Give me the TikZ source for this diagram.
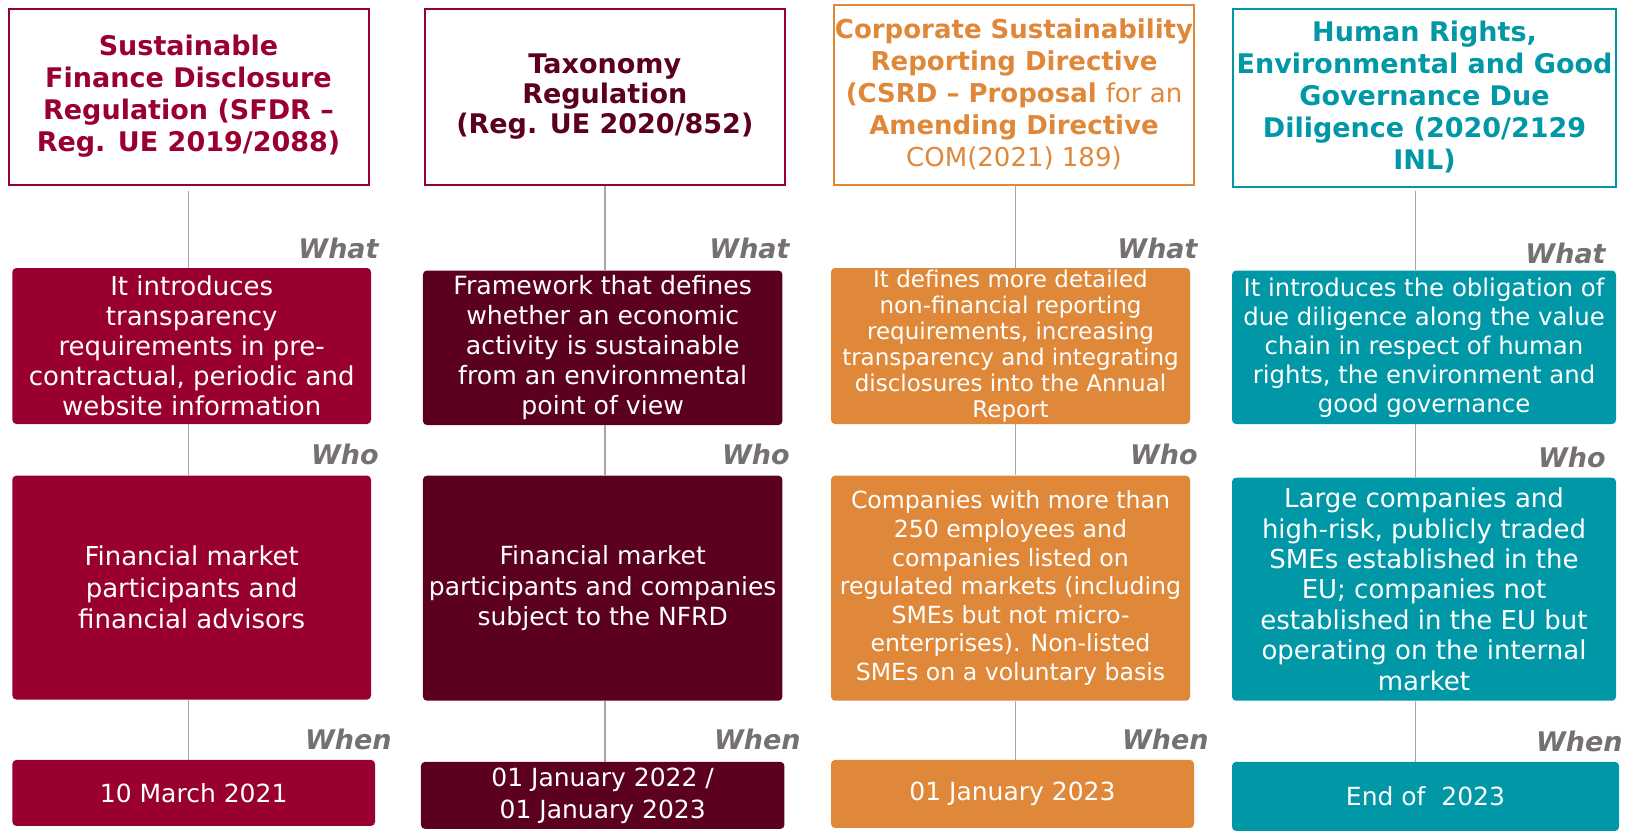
\documentclass[tikz,border=0pt]{standalone}
\usepackage{fontspec}
\setmainfont{DejaVu Sans}
\definecolor{crimson}{HTML}{990030}
\definecolor{maroon}{HTML}{5B001E}
\definecolor{orangec}{HTML}{E0883A}
\definecolor{tealc}{HTML}{0097A7}
\definecolor{labgray}{HTML}{767171}
\definecolor{linegray}{HTML}{A6A6A6}
\newcommand{\fsz}[2]{\fontsize{#1}{#2}\selectfont}
\begin{document}
\begin{tikzpicture}
[
x=0.5pt, y=-0.5pt,
hdr/.style={rectangle, draw, line width=1pt, fill=white, align=center, inner xsep=0pt, inner ysep=1pt, font=\bfseries\fsz{13.5}{16}},
blk/.style={rectangle, rounded corners=2pt, align=center, text=white, inner xsep=0pt, inner ysep=1pt},
tag/.style={anchor=east, text=labgray, inner sep=0pt, font=\bfseries\itshape\fsz{13.5}{16}},
conn/.style={draw=linegray, line width=0.7pt},
]
\useasboundingbox (0,0) rectangle (1625,831);
%
% headers
\node [hdr, draw=crimson, text=crimson, minimum width=180pt, minimum height=88pt] (sfdr) at (188.5, 96.5)
  {Sustainable\\ Finance Disclosure\\ Regulation (SFDR --\\ Reg. UE 2019/2088)};
\node [hdr, draw=crimson, text=maroon, minimum width=179.75pt, minimum height=88pt, font=\bfseries\fsz{13.5}{15}] (tax) at (604.8, 96.5)
  {Taxonomy\\ Regulation\\ (Reg. UE 2020/852)};
\node [hdr, draw=orangec, text=orangec, minimum width=180pt, minimum height=89.75pt, font=\bfseries\fsz{13}{16}] (csrd) at (1014, 94.8)
  {\makebox[0pt]{Corporate Sustainability}\\ Reporting Directive\\ (CSRD -- Proposal \mdseries for an\\ Amending Directive\\ \mdseries COM(2021) 189)};
\node [hdr, draw=tealc, text=tealc, minimum width=191.5pt, minimum height=89pt] (hrdd) at (1424.5, 97.5)
  {Human Rights,\\ Environmental and Good\\ Governance Due\\ Diligence (2020/2129\\ INL)};
%
% what
\node [blk, fill=crimson, minimum width=179.3pt, minimum height=78pt, font=\fsz{13}{15}] (what1) at (191.7, 346)
  {It introduces\\ transparency\\ requirements in pre-\\ contractual, periodic and\\ website information};
\node [blk, fill=maroon, minimum width=179.75pt, minimum height=77.25pt, font=\fsz{12.6}{15}] (what2) at (602.7, 347.8)
  {Framework that defines\\ whether an economic\\ activity is sustainable\\ from an environmental\\ point of view};
\node [blk, fill=orangec, minimum width=179.5pt, minimum height=78pt, inner ysep=0pt, font=\fsz{11.5}{13}] (what3) at (1010.5, 346)
  {It defines more detailed\\ non-financial reporting\\ requirements, increasing\\ transparency and integrating\\ disclosures into the Annual\\ Report};
\node [blk, fill=tealc, minimum width=192pt, minimum height=76.75pt, font=\fsz{12.2}{14.5}] (what4) at (1424, 347.3)
  {It introduces the obligation of\\ due diligence along the value\\ chain in respect of human\\ rights, the environment and\\ good governance};
%
% who
\node [blk, fill=crimson, minimum width=179.3pt, minimum height=112pt, font=\fsz{13}{15.8}] (who1) at (191.7, 587.6)
  {Financial market\\ participants and\\ financial advisors};
\node [blk, fill=maroon, minimum width=179.75pt, minimum height=112.5pt, font=\fsz{12.5}{15.3}] (who2) at (602.7, 588.2)
  {Financial market\\ participants and companies\\ subject to the NFRD};
\node [blk, fill=orangec, minimum width=179.5pt, minimum height=112.5pt, font=\fsz{11.8}{14.3}] (who3) at (1010.5, 588.2)
  {Companies with more than\\ 250 employees and\\ companies listed on\\ regulated markets (including\\ SMEs but not micro-\\ enterprises). Non-listed\\ SMEs on a voluntary basis};
\node [blk, fill=tealc, minimum width=192pt, minimum height=111.5pt, font=\fsz{13}{15.2}] (who4) at (1424, 589.2)
  {Large companies and\\ high-risk, publicly traded\\ SMEs established in the\\ EU; companies not\\ established in the EU but\\ operating on the internal\\ market};
%
% when
\node [blk, fill=crimson, minimum width=181.3pt, minimum height=33pt, font=\fsz{12.5}{16}] (when1) at (193.7, 792.9) {10 March 2021};
\node [blk, fill=maroon, minimum width=181.75pt, minimum height=33.5pt, font=\fsz{12.5}{16}] (when2) at (602.7, 795.4) {01 January 2022 /\\ 01 January 2023};
\node [blk, fill=orangec, minimum width=181.5pt, minimum height=34pt, font=\fsz{12.5}{16}] (when3) at (1012.5, 793.9) {01 January 2023};
\node [blk, fill=tealc, minimum width=193.5pt, minimum height=34.5pt, font=\fsz{12.5}{16}] (when4) at (1425.5, 796.4) {End of~~2023};
%
% labels
\node [tag] (lwhat1) at (379, 248.7) {What};
\node [tag] (lwhat2) at (790, 248.7) {What};
\node [tag] (lwhat3) at (1198, 248.7) {What};
\node [tag] (lwhat4) at (1606, 253) {What};
\node [tag] (lwho1) at (379, 454) {Who};
\node [tag] (lwho2) at (790, 454) {Who};
\node [tag] (lwho3) at (1198, 454) {Who};
\node [tag] (lwho4) at (1606, 457) {Who};
\node [tag] (lwhen1) at (392, 739) {When};
\node [tag] (lwhen2) at (801, 739) {When};
\node [tag] (lwhen3) at (1209, 739) {When};
\node [tag] (lwhen4) at (1623, 741) {When};
%
% connectors
\coordinate (top1) at ([yshift=-2.5pt]sfdr.south);
\coordinate (top2) at (tax.south);
\coordinate (top3) at ([xshift=0.8pt]csrd.south);
\coordinate (top4) at ([xshift=-4.4pt, yshift=-1.5pt]hrdd.south);
%
\draw [conn] (top1) -- (top1 |- what1.north);
\draw [conn] (top1 |- what1.south) -- (top1 |- who1.north);
\draw [conn] (top1 |- who1.south) -- (top1 |- when1.north);
%
\draw [conn] (top2) -- (top2 |- what2.north);
\draw [conn] (top2 |- what2.south) -- (top2 |- who2.north);
\draw [conn] (top2 |- who2.south) -- (top2 |- when2.north);
%
\draw [conn] (top3) -- (top3 |- what3.north);
\draw [conn] (top3 |- what3.south) -- (top3 |- who3.north);
\draw [conn] (top3 |- who3.south) -- (top3 |- when3.north);
%
\draw [conn] (top4) -- (top4 |- what4.north);
\draw [conn] (top4 |- what4.south) -- (top4 |- who4.north);
\draw [conn] (top4 |- who4.south) -- (top4 |- when4.north);
%
\end{tikzpicture}
\end{document}
